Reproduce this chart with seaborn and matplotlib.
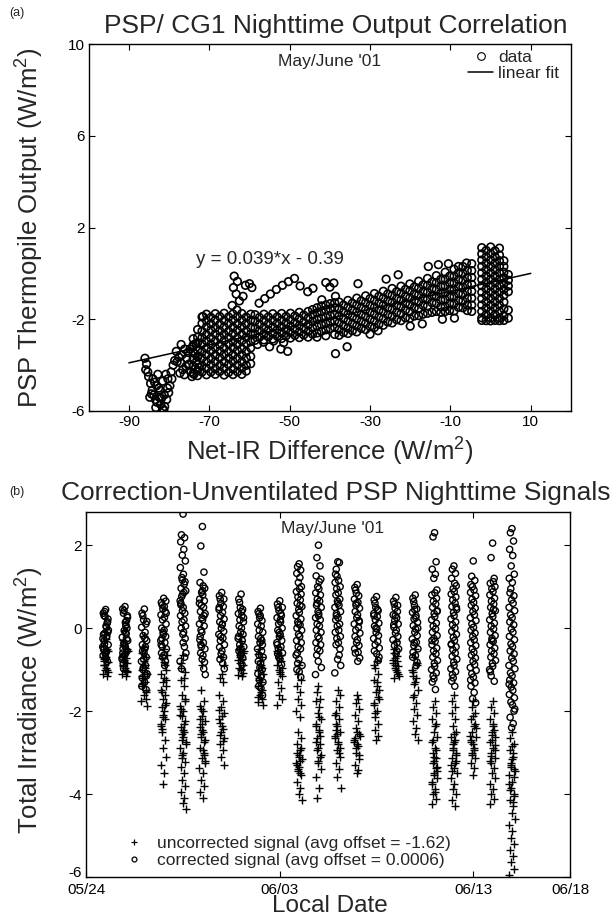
import numpy as np
import pandas as pd
import matplotlib
matplotlib.use("Agg")
import matplotlib.pyplot as plt
import seaborn as sns
from matplotlib.lines import Line2D

# ---------------- panel (a) data : Net-IR difference vs PSP output ----------------
hook_x = [-86.0, -85.6, -85.8, -85.1, -84.6, -84.2, -83.8, -83.4, -83.0, -82.5, -82.1, -81.6, -81.1,
          -80.6, -80.1, -79.8, -80.3, -79.5, -79.0, -78.6, -84.0, -83.1, -82.2, -81.2, -82.8, -81.6,
          -80.8, -84.8, -83.3, -81.3, -85.3, -84.4, -83.6, -82.6, -81.9, -80.4, -79.3]
hook_y = [-3.7, -3.95, -4.2, -4.5, -4.8, -5.1, -5.3, -5.5, -5.62, -5.4, -5.72, -5.9, -5.8,
          -5.5, -5.2, -4.9, -4.6, -4.3, -4.0, -3.8, -4.6, -4.9, -5.1, -5.3, -4.4, -4.7,
          -4.4, -5.4, -5.85, -5.97, -4.3, -5.25, -4.75, -5.0, -5.45, -5.0, -4.6]

low_x = [-78.2, -77.6, -77.1, -76.6, -76.1, -75.6, -75.1, -74.6, -74.1, -73.6, -73.1, -72.6, -77.0,
         -75.3, -73.3, -76.2, -74.3, -78.0, -77.3, -75.8, -74.8, -73.8, -72.8, -76.8, -75.0]
low_y = [-3.4, -3.65, -3.9, -4.2, -3.3, -3.7, -4.0, -4.3, -3.2, -3.5, -3.8, -4.1, -3.1,
         -3.45, -3.05, -4.42, -4.5, -3.85, -4.35, -4.05, -3.3, -4.4, -3.6, -3.55, -3.95]

block_col_x = [-74.0, -72.9, -71.8, -70.7, -69.6, -68.5, -67.4, -66.3, -65.2, -64.1, -63.0, -61.9, -60.8, -59.7]
block_col_y = [
    [-2.85, -3.12, -3.45, -3.72, -4.05, -4.36],
    [-2.45, -2.78, -3.02, -3.36, -3.64, -3.97, -4.24, -4.46],
    [-1.9, -2.18, -2.52, -2.8, -3.08, -3.42, -3.7, -4.02, -4.3],
    [-1.78, -2.06, -2.33, -2.67, -2.94, -3.27, -3.54, -3.86, -4.14, -4.42],
    [-1.92, -2.2, -2.48, -2.82, -3.1, -3.38, -3.72, -3.98, -4.3],
    [-1.76, -2.04, -2.37, -2.64, -2.96, -3.24, -3.57, -3.84, -4.16, -4.4],
    [-1.88, -2.22, -2.5, -2.78, -3.12, -3.4, -3.68, -4.02, -4.28],
    [-1.74, -2.06, -2.34, -2.66, -2.93, -3.26, -3.53, -3.87, -4.13, -4.43],
    [-1.9, -2.18, -2.52, -2.8, -3.08, -3.42, -3.7, -3.98, -4.32],
    [-1.77, -2.03, -2.36, -2.63, -2.97, -3.24, -3.56, -3.83, -4.17, -4.41],
    [-1.89, -2.21, -2.48, -2.82, -3.1, -3.37, -3.71, -4.0, -4.29],
    [-1.75, -2.05, -2.33, -2.67, -2.94, -3.28, -3.55, -3.86, -4.14, -4.4],
    [-1.91, -2.19, -2.51, -2.79, -3.07, -3.41, -3.69, -4.01, -4.26],
    [-1.78, -2.04, -2.37, -2.64, -2.98, -3.25, -3.62, -3.94],
]

band_col_x = [-58.6, -57.5, -56.4, -55.3, -54.2, -53.1, -52.0, -50.9, -49.8, -48.7, -47.6, -46.5,
              -45.4, -44.3, -43.2, -42.1, -41.0, -39.9, -38.8]
band_col_y = [
    [-1.8, -2.08, -2.38, -2.66, -2.92],
    [-1.92, -2.22, -2.5, -2.78],
    [-1.78, -2.06, -2.36, -2.64, -2.9],
    [-1.9, -2.2, -2.48, -2.76],
    [-1.76, -2.05, -2.34, -2.62, -2.86],
    [-1.9, -2.18, -2.46, -2.74],
    [-1.75, -2.04, -2.33, -2.6, -2.84],
    [-1.88, -2.17, -2.45, -2.72],
    [-1.74, -2.02, -2.3, -2.58, -2.82],
    [-1.86, -2.15, -2.43, -2.7],
    [-1.7, -1.98, -2.28, -2.56, -2.8],
    [-1.82, -2.12, -2.4, -2.68],
    [-1.66, -1.95, -2.25, -2.53, -2.78],
    [-1.58, -1.8, -2.1, -2.38, -2.65],
    [-1.5, -1.72, -2.0, -2.3, -2.6, -2.78],
    [-1.42, -1.66, -1.95, -2.24, -2.52],
    [-1.38, -1.6, -1.9, -2.18, -2.46, -2.72],
    [-1.32, -1.55, -1.84, -2.12, -2.4],
    [-1.28, -1.5, -1.8, -2.08, -2.36, -2.66],
]

rise_col_x = [-37.7, -36.6, -35.5, -34.4, -33.3, -32.2, -31.1, -30.0, -28.9, -27.8, -26.7, -25.6,
              -24.5, -23.4, -22.3, -21.2, -20.1, -19.0, -17.9, -16.8, -15.7, -14.6, -13.5, -12.4,
              -11.3, -10.2, -9.1, -8.0, -6.9, -5.8, -4.7]
rise_col_y = [
    [-1.25, -1.55, -1.85, -2.15, -2.45, -2.7],
    [-1.38, -1.68, -1.98, -2.28, -2.58],
    [-1.18, -1.48, -1.78, -2.08, -2.38, -2.62],
    [-1.3, -1.6, -1.9, -2.2, -2.5],
    [-1.08, -1.38, -1.68, -1.98, -2.28, -2.55],
    [-1.2, -1.5, -1.8, -2.1, -2.4],
    [-0.98, -1.28, -1.58, -1.88, -2.18, -2.45],
    [-1.1, -1.4, -1.7, -2.0, -2.32],
    [-0.88, -1.18, -1.48, -1.78, -2.08, -2.36],
    [-1.0, -1.3, -1.6, -1.9, -2.22],
    [-0.78, -1.08, -1.38, -1.68, -1.98, -2.26],
    [-0.9, -1.2, -1.5, -1.8, -2.12],
    [-0.66, -0.96, -1.26, -1.56, -1.86, -2.16],
    [-0.8, -1.1, -1.4, -1.7, -2.02],
    [-0.56, -0.86, -1.16, -1.46, -1.76, -2.06],
    [-0.7, -1.0, -1.3, -1.6, -1.94],
    [-0.46, -0.76, -1.06, -1.36, -1.66, -1.96],
    [-0.6, -0.9, -1.2, -1.5, -1.86],
    [-0.34, -0.64, -0.94, -1.24, -1.54, -1.84],
    [-0.5, -0.8, -1.1, -1.4, -1.78],
    [-0.22, -0.52, -0.82, -1.12, -1.42, -1.74],
    [-0.38, -0.68, -0.98, -1.28, -1.7],
    [-0.1, -0.4, -0.7, -1.0, -1.3, -1.66],
    [-0.26, -0.56, -0.86, -1.16, -1.46, -1.7],
    [0.05, -0.25, -0.55, -0.85, -1.15, -1.45, -1.66],
    [-0.12, -0.42, -0.72, -1.02, -1.32, -1.62],
    [0.18, -0.12, -0.42, -0.72, -1.02, -1.32, -1.64],
    [0.02, -0.28, -0.58, -0.88, -1.18, -1.48],
    [0.3, 0.0, -0.3, -0.6, -0.9, -1.2, -1.5],
    [0.12, -0.18, -0.48, -0.78, -1.08, -1.38, -1.62],
    [0.42, 0.12, -0.18, -0.48, -0.78, -1.08, -1.38, -1.66],
]

right_col_x = [-2.2, -1.1, 0.0, 1.1, 2.2, 3.3, 4.4]
right_col_y = [
    [1.12, 0.85, 0.58, 0.3, 0.02, -0.26, -0.54, -0.82, -1.1, -1.38, -1.66, -1.94, -2.05],
    [1.0, 0.72, 0.44, 0.16, -0.12, -0.4, -0.68, -0.96, -1.24, -1.52, -1.8, -2.06],
    [1.15, 0.86, 0.58, 0.3, 0.02, -0.26, -0.54, -0.82, -1.1, -1.38, -1.66, -1.94, -2.07],
    [0.98, 0.72, 0.44, 0.16, -0.12, -0.4, -0.68, -0.96, -1.24, -1.52, -1.8, -2.05],
    [1.1, 0.8, 0.55, 0.3, 0.02, -0.26, -0.54, -0.82, -1.1, -1.38, -1.66, -1.94, -2.06],
    [0.55, 0.3, 0.05, -0.2, -0.45, -0.7, -0.95, -1.25, -1.55, -1.85, -2.05],
    [-0.05, -0.3, -0.55, -0.8, -1.6, -1.95],
]

out_x = [-71.6, -63.8, -63.0, -64.0, -63.3, -62.5, -64.3, -63.1, -61.6, -60.0, -59.4, -61.0, -57.6,
         -56.2, -54.8, -53.3, -51.8, -50.3, -48.8, -47.4, -45.5, -44.2, -42.0, -41.0, -40.0, -39.0,
         -38.6, -58.0, -56.5, -55.0, -52.2, -51.5, -50.5, -54.0, -38.6, -35.7, -30.0, -23.0, -26.0,
         -33.0, -15.5, -13.0, -10.5, -8.0, -6.0, -20.0, -17.0, -12.0, -9.0, -28.0]
out_y = [-1.88, -0.12, -0.35, -0.62, -0.9, -1.2, -1.4, -1.6, -1.0, -0.45, -0.62, -0.52, -1.3,
         -1.1, -0.9, -0.7, -0.52, -0.36, -0.22, -0.55, -0.8, -0.65, -1.15, -0.4, -0.6, -0.42,
         -1.0, -3.1, -3.0, -3.2, -3.3, -3.02, -3.4, -2.95, -3.5, -3.2, -2.65, -0.06, -0.25,
         -0.45, 0.3, 0.38, 0.42, 0.3, 0.45, -2.3, -2.2, -2.0, -1.95, -2.5]

fit_slope = 0.039
fit_intercept = -0.39
fit_x = [-90.0, 10.0]

# ---------------- panel (b) data : nightly signals ----------------
night_day = [1, 2, 3, 4, 5, 6, 7, 8, 9, 10, 11, 12, 13, 14, 15, 16, 17, 18, 19, 20, 21, 22]
corr_vals = [
    [0.45, 0.3, 0.12, 0.36, 0.02, -0.12, 0.22, -0.25, 0.05, -0.38, 0.15, -0.52, -0.2, -0.62, -0.05, -0.45, -0.72, -0.3, -0.8, -0.15, -0.56, 0.28, -0.4, -0.66, -0.22, 0.4, -0.1, -0.5],
    [0.52, 0.36, 0.18, 0.46, 0.08, -0.06, 0.3, -0.22, 0.14, -0.36, 0.0, -0.5, -0.14, -0.66, -0.3, -0.75, -0.44, -0.98, -0.26, -0.6, 0.06, -0.4, 0.26, -0.7, -0.1, 0.42, -0.55, -0.85],
    [0.46, 0.3, 0.1, 0.36, -0.1, 0.2, -0.3, 0.02, -0.5, -0.18, -0.7, -0.4, -0.9, -0.6, -1.1, -0.8, -1.3, -1.0, -1.48, -1.2, -0.45, -0.75, 0.16, -1.4, -0.25, -0.95, -1.15, -0.55],
    [0.72, 0.56, 0.4, 0.62, 0.26, 0.46, 0.1, 0.32, -0.05, 0.2, -0.2, 0.0, -0.35, -0.15, -0.5, -0.3, -0.65, -0.45, -0.8, -0.6, -0.9, -0.1, 0.36, -0.4, 0.52, -0.7, 0.65, -0.25],
    [2.75, 2.25, 2.18, 2.08, 1.9, 1.76, 1.62, 1.46, 1.3, 1.22, 1.12, 0.96, 1.06, 0.82, 0.9, 0.66, 0.5, 0.76, 0.36, 0.56, 0.2, 0.42, 0.05, 0.3, -0.1, 0.15, -0.25, 0.0, -0.45, -0.15, -0.6, -0.8, -0.35, -0.98, -0.7, 0.6, 0.86, 1.16],
    [2.45, 1.98, 1.35, 1.1, 1.02, 0.86, 0.96, 0.7, 0.8, 0.55, 0.66, 0.4, 0.5, 0.25, 0.35, 0.1, 0.2, -0.05, 0.05, -0.2, -0.35, -0.1, -0.5, -0.28, -0.66, -0.45, -0.82, -0.6, -0.98, -0.75, -1.12, 0.6, 0.9, -0.4, 0.3],
    [0.86, 0.7, 0.52, 0.78, 0.38, 0.6, 0.22, 0.45, 0.08, 0.3, -0.08, 0.15, -0.24, 0.0, -0.4, -0.15, -0.55, -0.3, -0.7, -0.46, -0.85, -0.62, -0.98, 0.5, 0.1, -0.2, 0.7, -0.75],
    [0.82, 0.62, 0.45, 0.7, 0.3, 0.5, 0.15, 0.35, 0.0, 0.2, -0.15, 0.05, -0.3, -0.1, -0.45, -0.25, -0.6, -0.4, -0.72, -0.55, -0.88, -0.65, 0.25, -0.2, 0.4, -0.5],
    [0.48, 0.35, 0.18, 0.4, 0.05, 0.25, -0.1, 0.1, -0.25, -0.05, -0.4, -0.2, -0.55, -0.35, -0.7, -0.5, -0.85, -0.65, -1.0, -0.8, -1.15, -0.95, -1.3, -1.1, -1.45, -1.25, -1.62, -1.4, -0.3, 0.3],
    [0.66, 0.5, 0.3, 0.58, 0.15, 0.42, 0.0, 0.25, -0.15, 0.1, -0.3, -0.05, -0.45, -0.2, -0.6, -0.35, -0.75, -0.5, -0.88, -0.62, 0.35, -0.1, 0.5, -0.4, 0.2, -0.7],
    [1.55, 1.48, 1.4, 1.32, 1.22, 1.1, 1.0, 0.88, 0.95, 0.75, 0.82, 0.6, 0.68, 0.45, 0.52, 0.3, 0.38, 0.15, 0.22, 0.0, 0.08, -0.15, -0.05, -0.3, -0.2, -0.45, -0.35, -0.6, -0.5, -0.75, -0.9, -0.65, -1.05, -0.85, -1.18, -1.0, 0.55, 0.1],
    [2.0, 1.7, 1.5, 1.26, 1.12, 1.0, 1.18, 0.85, 0.95, 0.7, 0.8, 0.55, 0.65, 0.4, 0.5, 0.25, 0.35, 0.1, 0.2, -0.05, 0.05, -0.2, -0.1, -0.35, -0.25, -0.5, -0.4, -0.65, -0.55, -0.8, -0.95, -1.12, 0.3, 0.6],
    [1.6, 1.42, 1.58, 1.3, 1.15, 1.25, 1.0, 1.1, 0.85, 0.95, 0.7, 0.8, 0.55, 0.65, 0.4, 0.5, 0.25, 0.35, 0.1, 0.2, -0.05, 0.05, -0.2, -0.1, -0.35, -0.25, -0.5, -0.4, -0.65, -0.75, -0.9, -1.08, 0.6, 0.3],
    [1.05, 0.92, 0.78, 0.98, 0.62, 0.84, 0.48, 0.7, 0.32, 0.55, 0.18, 0.4, 0.02, 0.25, -0.12, 0.1, -0.28, -0.05, -0.42, -0.2, -0.58, -0.35, -0.72, -0.5, -0.8, 0.6, 0.15, -0.6],
    [0.76, 0.6, 0.42, 0.68, 0.28, 0.5, 0.12, 0.35, -0.02, 0.2, -0.18, 0.05, -0.32, -0.1, -0.48, -0.25, -0.62, -0.4, -0.78, -0.55, 0.45, 0.0, -0.7, 0.3],
    [0.74, 0.58, 0.4, 0.65, 0.25, 0.48, 0.1, 0.32, -0.05, 0.18, -0.2, 0.02, -0.35, -0.12, -0.5, -0.28, -0.62, -0.42, 0.55, 0.08, -0.55, 0.3],
    [0.8, 0.64, 0.46, 0.72, 0.3, 0.55, 0.14, 0.38, -0.02, 0.22, -0.18, 0.06, -0.34, -0.1, -0.5, -0.26, -0.66, -0.42, -0.82, -0.58, -0.9, 0.45, 0.0, -0.7, 0.25, -0.35],
    [2.3, 2.2, 1.6, 1.42, 1.3, 1.2, 0.92, 0.8, 0.85, 0.65, 0.72, 0.5, 0.58, 0.35, 0.42, 0.2, 0.28, 0.05, 0.12, -0.1, -0.02, -0.25, -0.18, -0.4, -0.32, -0.55, -0.48, -0.7, -0.62, -0.85, -0.78, -1.0, -0.92, -1.15, -1.08, -1.3, -1.48, -1.22, 0.4, -0.3],
    [1.5, 1.42, 1.32, 1.2, 1.08, 0.95, 1.02, 0.82, 0.88, 0.68, 0.75, 0.52, 0.6, 0.38, 0.45, 0.22, 0.3, 0.08, 0.15, -0.08, 0.0, -0.22, -0.15, -0.38, -0.3, -0.52, -0.45, -0.68, -0.6, -0.82, -0.75, -0.98, -0.9, -1.12, -1.05, -1.28, -1.4, -1.2, 0.5, -0.4],
    [1.62, 1.25, 1.15, 1.05, 0.92, 1.0, 0.78, 0.86, 0.62, 0.7, 0.48, 0.55, 0.32, 0.4, 0.18, 0.25, 0.02, 0.1, -0.12, -0.05, -0.28, -0.2, -0.42, -0.35, -0.58, -0.5, -0.72, -0.65, -0.88, -0.8, -1.02, -0.95, -1.18, -1.1, -1.32, -1.4, -1.55, -1.7, -1.8, -1.25],
    [2.05, 1.7, 1.2, 1.08, 1.12, 0.95, 1.0, 0.8, 0.88, 0.65, 0.72, 0.5, 0.58, 0.35, 0.42, 0.2, 0.28, 0.05, 0.12, -0.1, -0.02, -0.25, -0.18, -0.4, -0.32, -0.55, -0.48, -0.7, -0.62, -0.85, -0.78, -1.0, -0.92, -1.15, -1.28, -1.05, 0.45, -0.3],
    [2.4, 2.3, 2.1, 1.9, 1.75, 1.5, 1.3, 1.2, 1.1, 0.95, 0.78, 0.85, 0.6, 0.68, 0.42, 0.5, 0.25, 0.32, 0.08, 0.15, -0.1, -0.02, -0.28, -0.2, -0.45, -0.38, -0.62, -0.55, -0.8, -0.72, -0.98, -0.9, -1.15, -1.08, -1.32, -1.25, -1.5, -1.42, -1.68, -1.6, -1.85, -1.78, -2.0, -2.15, -2.3, -2.4, -1.95, -1.35],
]
raw_vals = [
    [-0.1, -0.3, -0.5, -0.42, -0.7, -0.6, -0.82, -0.7, -0.95, -0.8, -1.05, -0.9, -1.15, -1.0, -0.55, -1.1, -0.25, -0.75, -1.02, -0.88],
    [-0.05, -0.28, -0.5, -0.4, -0.72, -0.6, -0.85, -0.7, -0.96, -0.82, -1.06, -0.92, -1.15, -1.0, -0.55, -1.1, -0.3, -0.78, -1.04, -0.9],
    [-0.2, -0.45, -0.7, -0.6, -0.9, -0.8, -1.1, -1.0, -1.3, -1.2, -1.5, -1.4, -1.7, -1.6, -1.88, -1.75, -0.95, -1.35, -1.55, -1.15],
    [-0.5, -0.72, -0.9, -1.1, -0.82, -1.3, -1.02, -1.5, -1.2, -1.7, -1.4, -1.9, -1.6, -2.1, -1.8, -2.3, -2.0, -2.5, -2.2, -2.42, -2.7, -2.9, -3.1, -3.3, -3.5, -3.75, -1.25, -1.55, -1.85, -2.15, -0.65, -2.35],
    [-0.65, -0.85, -1.05, -1.25, -1.4, -1.62, -1.75, -1.88, -2.0, -2.12, -2.25, -2.38, -2.5, -2.62, -2.75, -2.88, -3.0, -3.12, -3.22, -1.95, -2.3, -2.55, -2.8, -3.35, -3.5, -3.65, -3.8, -3.95, -4.1, -4.22, -4.35, -2.1, -2.45, -2.7, -1.7, -0.95, -1.2, -3.05],
    [-0.9, -1.5, -1.75, -1.88, -2.0, -2.12, -2.25, -2.38, -2.5, -2.62, -2.75, -2.88, -3.0, -3.12, -3.25, -3.38, -3.5, -3.65, -3.8, -3.95, -4.1, -2.45, -2.7, -2.2, -2.95, -1.95, -3.2, -2.55, -3.05, -2.3],
    [-1.1, -1.2, -1.3, -1.6, -1.75, -1.9, -2.05, -2.2, -2.35, -2.5, -2.65, -2.8, -2.95, -3.1, -3.3, -1.98, -2.12, -2.28, -2.42, -2.58, -2.72, -0.7, -0.9],
    [-0.2, -0.42, -0.6, -0.5, -0.75, -0.65, -0.88, -0.78, -0.98, -0.85, -1.08, -0.95, -1.15, -1.02, -0.55, -1.12, -0.3, -0.7],
    [-0.3, -0.5, -0.7, -0.62, -0.9, -0.8, -1.1, -1.0, -1.3, -1.2, -1.5, -1.4, -1.7, -1.6, -1.85, -1.78, -1.55, -1.25, -0.95, -1.65],
    [-0.2, -0.45, -0.65, -0.55, -0.8, -0.72, -0.95, -0.88, -1.05, -1.0, -1.15, -1.3, -1.45, -1.6, -1.72, -1.85, -1.1, -0.6],
    [-0.9, -1.1, -1.25, -1.4, -1.55, -1.7, -1.85, -2.0, -2.15, -2.5, -2.65, -2.8, -2.95, -3.05, -3.15, -3.25, -3.35, -3.45, -3.55, -3.7, -3.85, -4.0, -4.15, -3.0, -3.2, -3.4, -2.88, -3.3, -3.5, -3.1],
    [-1.4, -1.55, -1.7, -1.75, -1.9, -2.05, -2.2, -2.35, -2.5, -2.65, -2.8, -2.95, -3.1, -3.25, -3.4, -3.6, -3.85, -4.1, -2.6, -2.75, -2.45, -2.9, -3.05, -2.3, -2.15, -3.2],
    [-1.5, -1.75, -1.9, -2.05, -2.2, -2.35, -2.5, -2.65, -2.8, -2.95, -3.1, -3.25, -3.4, -3.6, -3.85, -2.6, -2.75, -2.45, -2.9, -2.3, -3.0, -2.55, -1.6, -2.1],
    [-1.6, -1.8, -1.95, -2.1, -2.25, -2.4, -2.55, -2.7, -2.85, -3.0, -3.15, -3.3, -3.42, -3.5, -2.6, -2.75, -2.5, -2.9, -3.05, -2.65, -1.7, -2.8],
    [-0.8, -0.95, -1.1, -1.25, -1.4, -1.55, -1.7, -1.85, -2.0, -2.15, -2.3, -2.45, -2.6, -2.7, -1.5, -1.8, -1.3, -2.05, -1.65, -0.9],
    [-0.3, -0.5, -0.68, -0.6, -0.8, -0.72, -0.92, -0.85, -1.02, -0.96, -1.1, -1.2, -1.05, -0.9, -1.15, -0.78],
    [-0.5, -0.7, -0.9, -1.05, -1.2, -1.35, -1.5, -1.65, -1.8, -1.95, -2.1, -2.25, -2.4, -2.55, -2.7, -1.0, -1.3, -1.6, -0.85, -1.15],
    [-1.75, -1.9, -2.05, -2.2, -2.35, -2.5, -2.62, -2.75, -2.88, -3.0, -3.12, -3.25, -3.38, -3.5, -3.62, -3.75, -3.88, -4.0, -4.12, -4.25, -2.95, -3.2, -3.45, -3.7, -3.95, -3.1, -3.35, -2.7, -2.3, -3.55],
    [-1.6, -1.75, -1.9, -2.05, -2.2, -2.35, -2.5, -2.62, -2.75, -2.88, -3.0, -3.12, -3.25, -3.38, -3.5, -3.62, -3.75, -3.88, -4.0, -4.15, -4.3, -2.8, -3.05, -3.3, -2.55, -2.95, -3.2, -3.45, -2.7],
    [-1.75, -1.9, -2.05, -2.2, -2.35, -2.5, -2.62, -2.75, -2.88, -3.0, -3.12, -3.25, -3.38, -3.55, -2.4, -2.6, -2.8, -3.05, -2.3, -2.7, -2.95, -2.12],
    [-1.75, -1.9, -2.05, -2.2, -2.35, -2.5, -2.62, -2.75, -2.88, -3.0, -3.12, -3.25, -3.38, -3.5, -3.62, -3.75, -3.88, -4.0, -4.12, -4.25, -2.45, -2.7, -2.95, -3.2, -2.3, -2.58, -2.82, -3.08],
    [-2.5, -2.65, -2.8, -2.95, -3.1, -3.25, -3.4, -3.55, -3.7, -3.85, -4.0, -4.15, -4.3, -4.45, -4.6, -4.75, -4.9, -5.05, -5.2, -5.35, -5.5, -5.65, -5.8, -5.95, -3.0, -3.3, -3.6, -3.9, -4.2, -3.15, -3.45, -3.75, -2.85, -3.35, -4.05],
]
date_ticks = [0, 10, 20, 25]
date_labels = ["05/24", "06/03", "06/13", "06/18"]

# ---------------- build tables ----------------
ax_pts, ay_pts = [], []
ax_pts += hook_x; ay_pts += hook_y
ax_pts += low_x; ay_pts += low_y
for cx_list, cy_list in [(block_col_x, block_col_y), (band_col_x, band_col_y),
                         (rise_col_x, rise_col_y), (right_col_x, right_col_y)]:
    for cx, ys in zip(cx_list, cy_list):
        ax_pts += [cx] * len(ys)
        ay_pts += ys
ax_pts += out_x; ay_pts += out_y
df_a = pd.DataFrame({"netir": ax_pts, "psp": ay_pts})
fit_y = [fit_slope * v + fit_intercept for v in fit_x]

NIGHT_SPAN = 0.32

def vdc(i):
    # van der Corput ordering of the sample times inside one night window
    v, denom = 0.0, 1.0
    while i:
        denom *= 2.0
        i, r = divmod(i, 2)
        v += r / denom
    return v

def night_frame(vals):
    rows = []
    for d, ys in zip(night_day, vals):
        for i, v in enumerate(ys):
            rows.append((d + (vdc(i + 1) - 0.5) * NIGHT_SPAN, v))
    return pd.DataFrame(rows, columns=["day", "val"])

df_corr = night_frame(corr_vals)
df_raw = night_frame(raw_vals)

# ---------------- style ----------------
sns.set_style("ticks")
plt.rcParams["font.family"] = ["Liberation Sans", "DejaVu Sans"]
plt.rcParams["mathtext.fontset"] = "custom"
plt.rcParams["mathtext.rm"] = "Liberation Sans"
plt.rcParams["mathtext.it"] = "Liberation Sans:italic"
plt.rcParams["axes.unicode_minus"] = False

W, H = 610, 919
fig = plt.figure(figsize=(W / 100, H / 100), dpi=100)

def fx(px):
    return px / W

def fy(py):
    return 1 - py / H

ax1 = fig.add_axes([fx(88.7), fy(411), fx(571 - 88.7), (411 - 44) / H])
ax2 = fig.add_axes([fx(86.3), fy(877), fx(570 - 86.3), (877 - 512) / H])

for ax in (ax1, ax2):
    ax.tick_params(direction="in", top=True, right=True, length=4, width=0.8,
                   labelsize=11, colors="black", pad=3)
    for s in ax.spines.values():
        s.set_linewidth(1.0)
        s.set_color("black")
        s.set_visible(True)
ax2.tick_params(axis="x", pad=4)

# ---- panel (a)
sns.scatterplot(data=df_a, x="netir", y="psp", ax=ax1, marker="o", s=30,
                facecolors="none", edgecolor="black", linewidth=1.2, legend=False)
sns.lineplot(x=fit_x, y=fit_y, ax=ax1, color="black", linewidth=1.1)
ax1.set_xlim(-100, 20)
ax1.set_ylim(-6, 10)
ax1.set_xticks([-90, -70, -50, -30, -10, 10])
ax1.set_yticks([-6, -2, 2, 6, 10])
ax1.set_xlabel("")
ax1.set_ylabel("")
ax1.text(0.5, 0.952, "May/June '01", transform=ax1.transAxes, ha="center", va="center", fontsize=12.5)
ax1.text(-73.4, 0.62, "y = 0.039*x - 0.39", ha="left", va="center", fontsize=13.5)
h_a = [Line2D([], [], marker="o", ls="none", mfc="none", mec="black", ms=5.5, mew=0.8),
       Line2D([], [], color="black", lw=1.1)]
ax1.legend(h_a, ["data", "linear fit"], loc="upper right", bbox_to_anchor=(0.975, 0.985),
           frameon=False, fontsize=12.5, handlelength=1.4, handletextpad=0.3,
           labelspacing=0.05, borderpad=0, borderaxespad=0)

# ---- panel (b)
sns.scatterplot(data=df_raw, x="day", y="val", ax=ax2, marker="+", s=28,
                color="black", linewidth=1.0, legend=False)
sns.scatterplot(data=df_corr, x="day", y="val", ax=ax2, marker="o", s=20,
                facecolors="none", edgecolor="black", linewidth=1.0, legend=False)
ax2.set_xlim(0, 25)
ax2.set_ylim(-6, 2.8)
ax2.set_xticks(date_ticks)
ax2.set_xticklabels(date_labels)
ax2.set_yticks([-6, -4, -2, 0, 2])
ax2.set_yticklabels(["-6", "-4", "-2", "0", "2"])
ax2.get_yticklabels()[0].set_va("baseline")
ax2.set_xlabel("")
ax2.set_ylabel("")
ax2.text(0.51, 0.955, "May/June '01", transform=ax2.transAxes, ha="center", va="center", fontsize=12.5)
h_b = [Line2D([], [], marker="+", ls="none", color="black", ms=5, mew=0.9),
       Line2D([], [], marker="o", ls="none", mfc="none", mec="black", ms=3.5, mew=0.9)]
ax2.legend(h_b, ["uncorrected signal (avg offset = -1.62)", "corrected signal (avg offset = 0.0006)"],
           loc="lower left", bbox_to_anchor=(0.085, 0.025), frameon=False, fontsize=12.5,
           handlelength=0.8, handletextpad=0.9, labelspacing=0.1, borderpad=0, borderaxespad=0)

# ---- figure texts
fig.text(fx(17), fy(13), "(a)", fontsize=9, ha="center", va="center")
fig.text(fx(336), fy(26), "PSP/ CG1 Nighttime Output Correlation", fontsize=19, ha="center", va="center")
fig.text(fx(30), fy(228), "PSP Thermopile Output (W/m$^{2}$)", fontsize=18.5, rotation=90,
         ha="center", va="center")
fig.text(fx(330), fy(452), "Net-IR Difference (W/m$^{2}$)", fontsize=18.5, ha="center", va="center")
fig.text(fx(17), fy(492), "(b)", fontsize=9, ha="center", va="center")
fig.text(fx(336), fy(493), "Correction-Unventilated PSP Nighttime Signals", fontsize=19,
         ha="center", va="center")
fig.text(fx(30), fy(700), "Total Irradiance (W/m$^{2}$)", fontsize=18.5, rotation=90,
         ha="center", va="center")
fig.text(fx(330), fy(912), "Local Date", fontsize=17.5, ha="center", va="baseline")

fig.savefig("out.png", dpi=100)
